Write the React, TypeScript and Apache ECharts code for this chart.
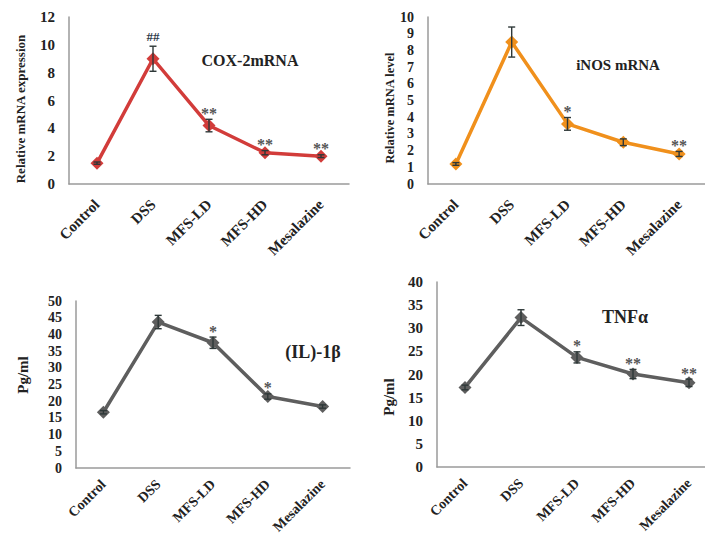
import React, { useEffect, useRef } from "react";
import * as echarts from "echarts";

const categories = ["Control", "DSS", "MFS-LD", "MFS-HD", "Mesalazine"];

const coxValues = [1.5, 9.0, 4.2, 2.25, 2.0];
const coxErrors = [0.08, 0.9, 0.45, 0.15, 0.1];
const coxMarks = ["", "##", "**", "**", "**"];
const coxTicks = [0, 12, 2];

const inosValues = [1.2, 8.5, 3.6, 2.5, 1.8];
const inosErrors = [0.08, 0.9, 0.38, 0.2, 0.15];
const inosMarks = ["", "", "*", "", "**"];
const inosTicks = [0, 10, 1];

const il1bValues = [16.7, 43.7, 37.5, 21.4, 18.4];
const il1bErrors = [0.5, 2.0, 1.7, 0.8, 0.5];
const il1bMarks = ["", "", "*", "*", ""];
const il1bTicks = [0, 50, 5];

const tnfValues = [17.2, 32.3, 23.7, 20.1, 18.2];
const tnfErrors = [0.5, 1.7, 1.2, 1.0, 0.8];
const tnfMarks = ["", "", "*", "**", "**"];
const tnfTicks = [0, 40, 5];

const FONT = "'Liberation Serif', 'Times New Roman', serif";

const panels = [
  {
    values: coxValues, errors: coxErrors, marks: coxMarks, ticks: coxTicks,
    color: "#d23c3a", title: "COX-2mRNA", yName: "Relative mRNA expression",
    grid: { left: 69, top: 17, width: 280, height: 167 },
    titlePos: [250, 60, 16], namePos: [20, 109, 13], tickFont: 15,
    xFont: 15, xMargin: 18,
  },
  {
    values: inosValues, errors: inosErrors, marks: inosMarks, ticks: inosTicks,
    color: "#f0901c", title: "iNOS mRNA", yName: "Relative mRNA level",
    grid: { left: 428, top: 17, width: 279, height: 167 },
    titlePos: [618, 65, 15], namePos: [390, 108, 12.5], tickFont: 14,
    xFont: 15, xMargin: 18,
  },
  {
    values: il1bValues, errors: il1bErrors, marks: il1bMarks, ticks: il1bTicks,
    color: "#5e5e5e", title: "(IL)-1\u03b2", yName: "Pg/ml",
    grid: { left: 76, top: 301, width: 274, height: 167 },
    titlePos: [313, 352, 18], namePos: [23, 375, 15], tickFont: 14,
    xFont: 14, xMargin: 14,
  },
  {
    values: tnfValues, errors: tnfErrors, marks: tnfMarks, ticks: tnfTicks,
    color: "#5e5e5e", title: "TNF\u03b1", yName: "Pg/ml",
    grid: { left: 437, top: 282, width: 280, height: 185 },
    titlePos: [625, 317, 18], namePos: [389, 397, 15], tickFont: 15,
    xFont: 14, xMargin: 14,
  },
];

export default function App() {
  const ref = useRef<HTMLDivElement>(null);

  useEffect(() => {
    if (!ref.current) return;
    const chart = echarts.init(ref.current, null, { renderer: "svg" });

    const grids: any[] = [];
    const xAxes: any[] = [];
    const yAxes: any[] = [];
    const series: any[] = [];
    const graphics: any[] = [];

    panels.forEach((p, i) => {
      grids.push({ ...p.grid, containLabel: false, outerBoundsMode: "none" });
      xAxes.push({
        type: "category",
        gridIndex: i,
        data: categories,
        boundaryGap: true,
        axisLine: { lineStyle: { color: "#9a9a9a", width: 1.5 } },
        axisTick: { show: false },
        axisLabel: {
          rotate: 45,
          margin: p.xMargin,
          interval: 0,
          color: "#222",
          fontFamily: FONT,
          fontWeight: "bold",
          fontSize: p.xFont,
        },
      });
      yAxes.push({
        type: "value",
        gridIndex: i,
        min: p.ticks[0],
        max: p.ticks[1],
        interval: p.ticks[2],
        axisLine: { show: true, lineStyle: { color: "#9a9a9a", width: 1.5 } },
        axisTick: { show: false },
        splitLine: { show: false },
        axisLabel: {
          margin: 14,
          color: "#222",
          fontFamily: FONT,
          fontWeight: "bold",
          fontSize: p.tickFont,
        },
      });

      series.push({
        type: "line",
        xAxisIndex: i,
        yAxisIndex: i,
        data: p.values,
        symbol: "diamond",
        symbolSize: 13,
        lineStyle: { color: p.color, width: 3.5 },
        itemStyle: { color: p.color },
        z: 2,
      });

      const errData = p.values.map((v, k) => [k, v, p.errors[k], p.marks[k]]);
      series.push({
        type: "custom",
        xAxisIndex: i,
        yAxisIndex: i,
        data: errData,
        z: 3,
        renderItem: (params: any, api: any) => {
          const x = api.value(0);
          const v = api.value(1);
          const e = api.value(2);
          const mark = errData[params.dataIndex][3] as string;
          const top = api.coord([x, v + e]);
          const bot = api.coord([x, v - e]);
          const cap = 3.5;
          const stroke = { stroke: "#2e3838", lineWidth: 1.4 };
          const children: any[] = [
            { type: "line", shape: { x1: top[0], y1: top[1], x2: bot[0], y2: bot[1] }, style: stroke },
            { type: "line", shape: { x1: top[0] - cap, y1: top[1], x2: top[0] + cap, y2: top[1] }, style: stroke },
            { type: "line", shape: { x1: bot[0] - cap, y1: bot[1], x2: bot[0] + cap, y2: bot[1] }, style: stroke },
          ];
          if (mark) {
            const isHash = mark.indexOf("#") >= 0;
            children.push({
              type: "text",
              x: top[0],
              y: top[1] - (isHash ? 10 : 6),
              style: {
                text: mark,
                fontFamily: FONT,
                fontWeight: "bold",
                fontSize: isHash ? 13 : 16,
                fill: isHash ? "#2e3a4a" : "#555",
                align: "center",
                verticalAlign: "middle",
              },
            });
          }
          return { type: "group", children };
        },
      });

      graphics.push({
        type: "text",
        x: p.titlePos[0],
        y: p.titlePos[1],
        style: {
          text: p.title,
          fontFamily: FONT,
          fontWeight: "bold",
          fontSize: p.titlePos[2],
          fill: "#222",
          align: "center",
          verticalAlign: "middle",
        },
      });
      graphics.push({
        type: "text",
        x: p.namePos[0],
        y: p.namePos[1],
        rotation: Math.PI / 2,
        style: {
          text: p.yName,
          fontFamily: FONT,
          fontWeight: "bold",
          fontSize: p.namePos[2],
          fill: "#222",
          align: "center",
          verticalAlign: "middle",
        },
      });
    });

    chart.setOption({
      animation: false,
      backgroundColor: "#ffffff",
      grid: grids,
      xAxis: xAxes,
      yAxis: yAxes,
      series,
      graphic: graphics,
    });

    return () => chart.dispose();
  }, []);

  return (
    <div
      ref={ref}
      style={{ position: "fixed", left: 0, top: 0, width: 705, height: 538, background: "#fff" }}
    />
  );
}
